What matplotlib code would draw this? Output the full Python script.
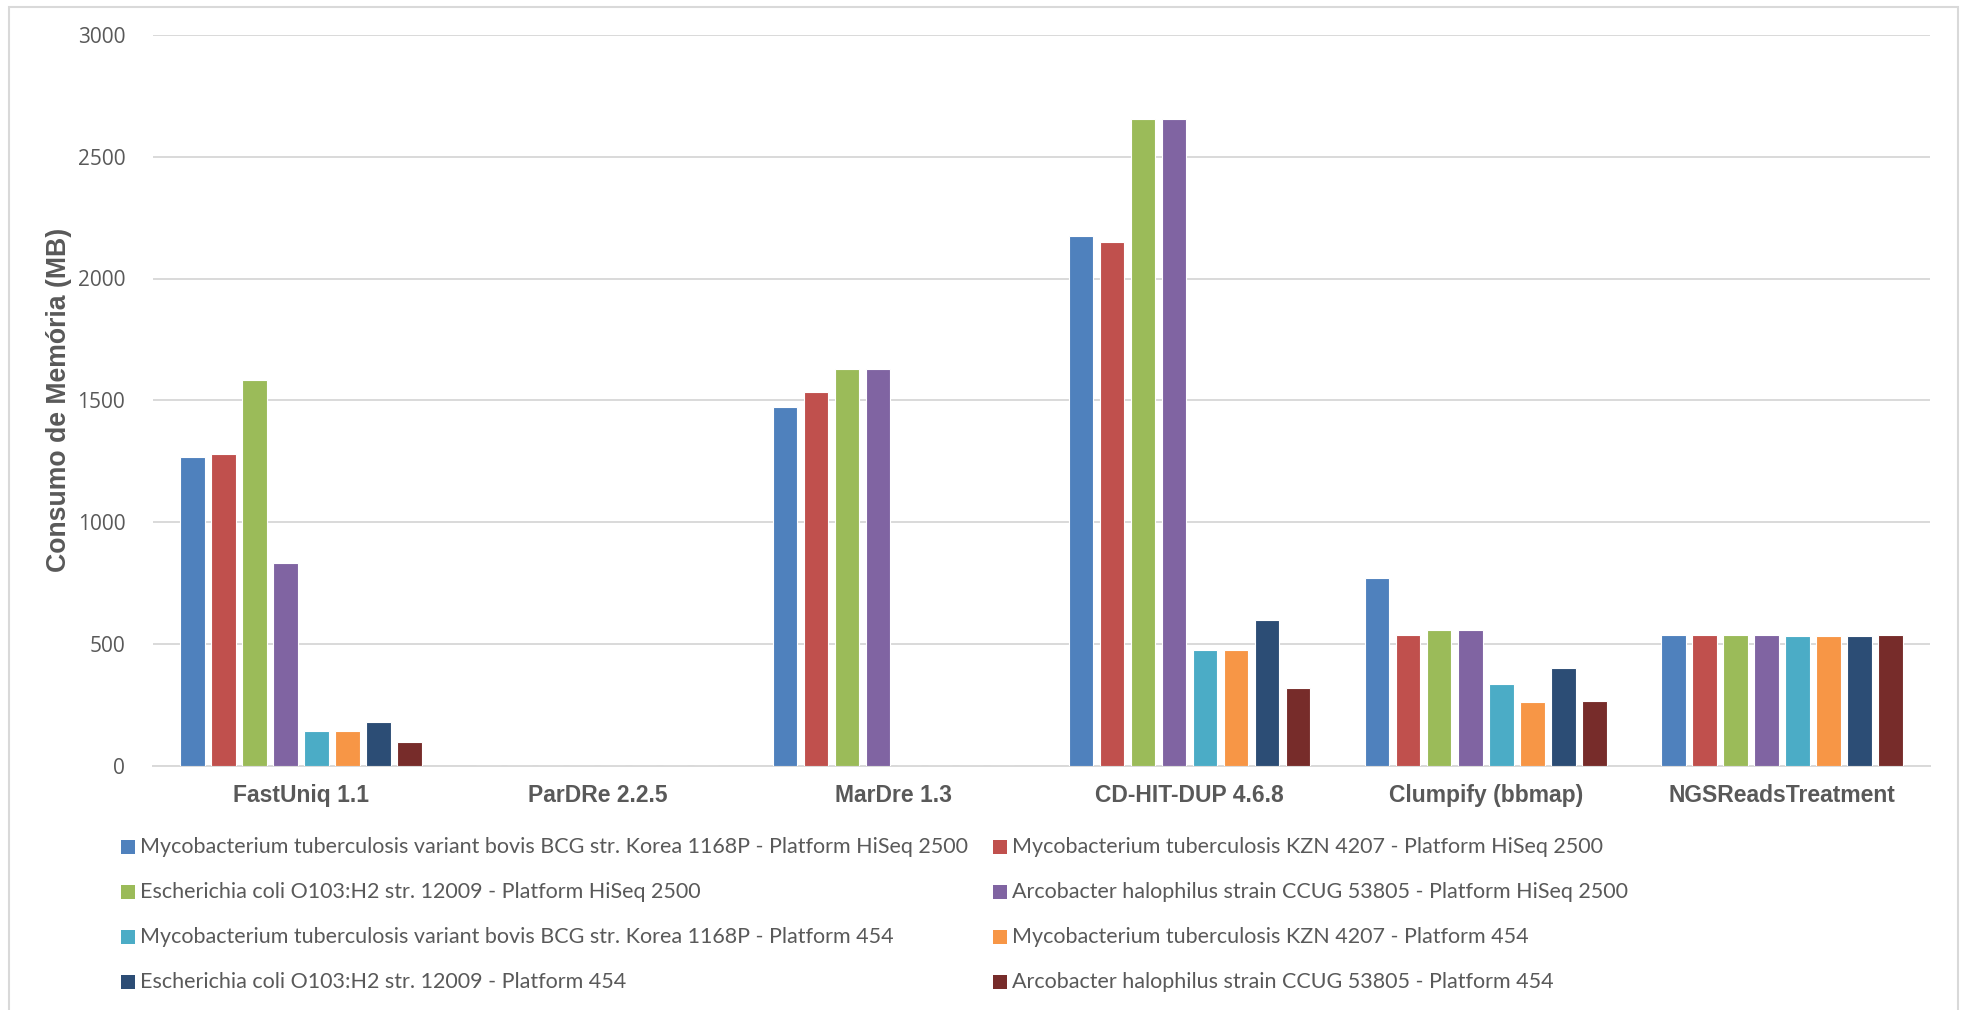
import matplotlib
matplotlib.use("Agg")
import matplotlib.pyplot as plt
from matplotlib.patches import Rectangle
import numpy as np

# Tools compared (x axis)
tools = ["FastUniq 1.1", "ParDRe 2.2.5", "MarDre 1.3", "CD-HIT-DUP 4.6.8",
         "Clumpify (bbmap)", "NGSReadsTreatment"]

# Datasets (one bar series each)
series_labels = [
    "Mycobacterium tuberculosis variant bovis BCG str. Korea 1168P - Platform HiSeq 2500",
    "Mycobacterium tuberculosis KZN 4207 - Platform HiSeq 2500",
    "Escherichia coli O103:H2 str. 12009 - Platform HiSeq 2500",
    "Arcobacter halophilus strain CCUG 53805 - Platform HiSeq 2500",
    "Mycobacterium tuberculosis variant bovis BCG str. Korea 1168P - Platform 454",
    "Mycobacterium tuberculosis KZN 4207 - Platform 454",
    "Escherichia coli O103:H2 str. 12009 - Platform 454",
    "Arcobacter halophilus strain CCUG 53805 - Platform 454",
]

# Memory consumption (MB) per dataset, in the order of `tools`
bovis_hiseq = [1268, 0, 1472, 2173, 769, 536]
kzn_hiseq = [1278, 0, 1533, 2150, 536, 537]
ecoli_hiseq = [1583, 0, 1630, 2657, 556, 536]
arco_hiseq = [830, 0, 1630, 2657, 556, 536]
bovis_454 = [142, 0, 0, 476, 335, 533]
kzn_454 = [142, 0, 0, 475, 261, 533]
ecoli_454 = [177, 0, 0, 597, 399, 532]
arco_454 = [95, 0, 0, 320, 264, 536]

values = [bovis_hiseq, kzn_hiseq, ecoli_hiseq, arco_hiseq,
          bovis_454, kzn_454, ecoli_454, arco_454]

colors = ["#4F81BD", "#C0504D", "#9BBB59", "#8064A2",
          "#4BACC6", "#F79646", "#2C4D75", "#772C2A"]

y_ticks = [0, 500, 1000, 1500, 2000, 2500, 3000]

W, H = 1964, 1010
fig = plt.figure(figsize=(W / 100, H / 100), dpi=100)
fig.patch.set_facecolor("white")

ax = fig.add_axes([153 / W, 1 - 765.5 / H, (1930 - 153) / W, (765.5 - 35) / H])

x = np.arange(len(tools))
step = 0.1047
bar_w = 0.0828
n = len(values)
for i, (vals, col, lab) in enumerate(zip(values, colors, series_labels)):
    offs = (i - (n - 1) / 2) * step
    ax.bar(x + offs, vals, width=bar_w, color=col, edgecolor="white",
           linewidth=0.8, label=lab, zorder=3)

ax.set_xlim(-0.5, len(tools) - 0.5)
ax.set_ylim(0, 3000)
ax.set_yticks(y_ticks)
ax.set_yticklabels([str(v) for v in y_ticks], fontfamily="Open Sans",
                   fontsize=15, color="#595959")
ax.set_xticks(x)
ax.set_xticklabels(tools, fontfamily="Liberation Sans", fontweight="bold",
                   fontsize=16.5, color="#595959")
ax.tick_params(axis="both", length=0)
ax.tick_params(axis="y", pad=20)
ax.tick_params(axis="x", pad=13)
ax.grid(axis="y", color="#D9D9D9", linewidth=1.4, zorder=0)
ax.set_axisbelow(True)
for side in ["top", "right", "left"]:
    ax.spines[side].set_visible(False)
ax.spines["bottom"].set_color("#D9D9D9")
ax.spines["bottom"].set_linewidth(1.4)

fig.text(59 / W, 1 - 400 / H, "Consumo de Memória (MB)", rotation=90,
         ha="center", va="center", fontfamily="Liberation Sans",
         fontweight="bold", fontsize=19.2, color="#595959")

# Legend laid out in two columns, row by row
row_y = [847.0, 892.0, 937.0, 982.0]
col_marker_x = [121, 993]
for i, (lab, col) in enumerate(zip(series_labels, colors)):
    r, c = divmod(i, 2)
    yc = row_y[r]
    mx = col_marker_x[c]
    fig.add_artist(Rectangle((mx / W, 1 - (yc + 7) / H), 14 / W, 14 / H,
                             transform=fig.transFigure, facecolor=col,
                             edgecolor="none"))
    fig.text((mx + 19) / W, 1 - yc / H, lab, ha="left", va="center",
             fontfamily="Lato", fontsize=15.5, color="#595959")

# Chart area border (open at the bottom edge of the image)
fig.add_artist(Rectangle((9 / W, -10 / H), (1958 - 9) / W, (1003 + 10) / H,
                         transform=fig.transFigure, facecolor="none",
                         edgecolor="#D9D9D9", linewidth=1.5))

fig.savefig("out.png", dpi=100, facecolor="white")
